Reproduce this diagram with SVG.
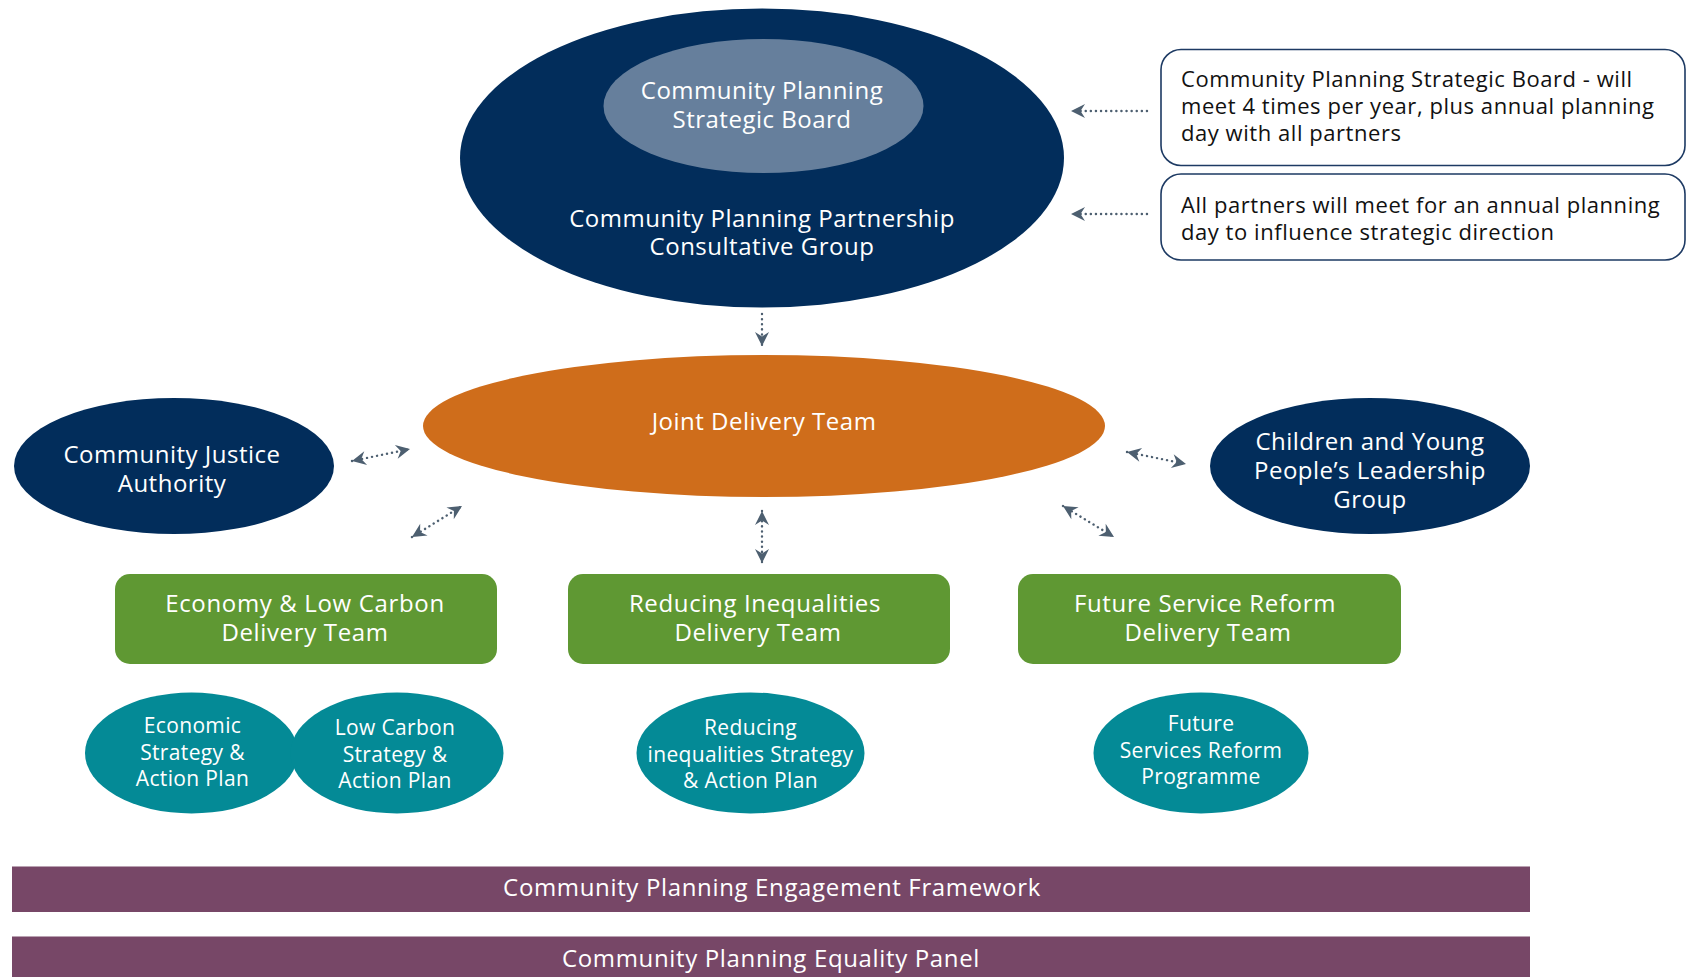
<svg xmlns="http://www.w3.org/2000/svg" width="1686" height="977" viewBox="0 0 1686 977">
<defs>
<marker id="ah" viewBox="-15 -8 16 16" refX="0" refY="0" markerWidth="16" markerHeight="16" markerUnits="userSpaceOnUse" orient="auto-start-reverse">
<path d="M0,0 L-14,-7 L-9.5,0 L-14,7 Z" fill="#4d5f70"/>
</marker>
<style>
text{font-family:"Open Sans","Noto Sans","Liberation Sans",sans-serif;text-anchor:middle;fill:#ffffff}
.t24{font-size:24px;letter-spacing:0.5px}
.wide{letter-spacing:0.65px}
.t21{font-size:21px;letter-spacing:0.35px}
.note{font-size:22px;fill:#111111;text-anchor:start;letter-spacing:0.55px}
.navy{fill:#022d5b}
.light{fill:#667f9c}
.orange{fill:#cf6d1b}
.green{fill:#5f9833}
.teal{fill:#048a96}
.purple{fill:#774767}
.box{fill:#ffffff;stroke:#1d3a63;stroke-width:1.6}
.con{fill:none;stroke:#4d5f70;stroke-width:2.4;stroke-linecap:round;stroke-dasharray:0.1 5}
</style>
</defs>
<rect width="1686" height="977" fill="#ffffff"/>

<g id="cpp-consultative-group">
<ellipse class="navy" cx="762" cy="158" rx="302" ry="149.5"/>
<text class="t24" x="762" y="226.5">Community Planning Partnership</text>
<text class="t24" x="762" y="255">Consultative Group</text>
</g>
<g id="strategic-board">
<ellipse class="light" cx="763.5" cy="106" rx="160" ry="67"/>
<text class="t24" x="762" y="99">Community Planning</text>
<text class="t24" x="762" y="127.5">Strategic Board</text>
</g>

<g id="note-strategic-board">
<rect class="box" x="1161" y="49.5" width="524" height="116" rx="20"/>
<text class="note" x="1181" y="87">Community Planning Strategic Board - will</text>
<text class="note" x="1181" y="114">meet 4 times per year, plus annual planning</text>
<text class="note" x="1181" y="141">day with all partners</text>
</g>
<g id="note-all-partners">
<rect class="box" x="1161" y="174" width="524" height="86" rx="20"/>
<text class="note" x="1181" y="213">All partners will meet for an annual planning</text>
<text class="note" x="1181" y="240">day to influence strategic direction</text>
</g>

<g id="joint-delivery-team">
<ellipse class="orange" cx="764" cy="426" rx="341" ry="71"/>
<text class="t24" x="764" y="430">Joint Delivery Team</text>
</g>

<g id="community-justice-authority">
<ellipse class="navy" cx="174" cy="466" rx="160" ry="68"/>
<text class="t24" x="172" y="462.5">Community Justice</text>
<text class="t24" x="172" y="491.5">Authority</text>
</g>

<g id="children-young-people">
<ellipse class="navy" cx="1370" cy="466" rx="160" ry="68"/>
<text class="t24" x="1370" y="449.5">Children and Young</text>
<text class="t24" x="1370" y="478.5">People’s Leadership</text>
<text class="t24" x="1370" y="507.5">Group</text>
</g>

<g id="economy-low-carbon-team">
<rect class="green" x="115" y="574" width="382" height="90" rx="15"/>
<text class="t24 wide" x="305" y="611.5">Economy &amp; Low Carbon</text>
<text class="t24 wide" x="305" y="640.5">Delivery Team</text>
</g>
<g id="reducing-inequalities-team">
<rect class="green" x="568" y="574" width="382" height="90" rx="15"/>
<text class="t24 wide" x="755" y="611.5">Reducing Inequalities</text>
<text class="t24 wide" x="758" y="640.5">Delivery Team</text>
</g>
<g id="future-service-reform-team">
<rect class="green" x="1018" y="574" width="383" height="90" rx="15"/>
<text class="t24 wide" x="1205" y="611.5">Future Service Reform</text>
<text class="t24 wide" x="1208" y="640.5">Delivery Team</text>
</g>

<g id="economic-strategy">
<ellipse class="teal" cx="191.5" cy="753" rx="106.5" ry="60.5"/>
<text class="t21" x="192.5" y="733">Economic</text>
<text class="t21" x="192.5" y="760">Strategy &amp;</text>
<text class="t21" x="192.5" y="786">Action Plan</text>
</g>
<g id="low-carbon-strategy">
<ellipse class="teal" cx="397" cy="753" rx="106.5" ry="60.5"/>
<text class="t21" x="395" y="735">Low Carbon</text>
<text class="t21" x="395" y="762">Strategy &amp;</text>
<text class="t21" x="395" y="788">Action Plan</text>
</g>
<g id="reducing-inequalities-strategy">
<ellipse class="teal" cx="750.5" cy="753" rx="114" ry="60.5"/>
<text class="t21" x="750.5" y="735">Reducing</text>
<text class="t21" x="750.5" y="762">inequalities Strategy</text>
<text class="t21" x="750.5" y="788">&amp; Action Plan</text>
</g>
<g id="future-services-reform-programme">
<ellipse class="teal" cx="1201" cy="753" rx="107.5" ry="60.5"/>
<text class="t21" x="1201" y="731">Future</text>
<text class="t21" x="1201" y="758">Services Reform</text>
<text class="t21" x="1201" y="784">Programme</text>
</g>

<g id="engagement-framework">
<rect class="purple" x="12" y="866.5" width="1518" height="45.5"/>
<text class="t24 wide" x="772" y="895.5">Community Planning Engagement Framework</text>
</g>
<g id="equality-panel">
<rect class="purple" x="12" y="936.5" width="1518" height="41"/>
<text class="t24 wide" x="771" y="966.5">Community Planning Equality Panel</text>
</g>

<g id="connectors">
<line class="con" x1="1147" y1="111" x2="1071" y2="111" marker-end="url(#ah)"/>
<line class="con" x1="1147" y1="214" x2="1071" y2="214" marker-end="url(#ah)"/>
<line class="con" x1="762" y1="314" x2="762" y2="346" marker-end="url(#ah)"/>
<line class="con" x1="352" y1="461" x2="410" y2="449" marker-start="url(#ah)" marker-end="url(#ah)"/>
<line class="con" x1="1127" y1="452" x2="1186" y2="464" marker-start="url(#ah)" marker-end="url(#ah)"/>
<line class="con" x1="412" y1="537" x2="462" y2="506" marker-start="url(#ah)" marker-end="url(#ah)"/>
<line class="con" x1="762" y1="511" x2="762" y2="563" marker-start="url(#ah)" marker-end="url(#ah)"/>
<line class="con" x1="1063" y1="506" x2="1114" y2="537" marker-start="url(#ah)" marker-end="url(#ah)"/>
</g>
</svg>
